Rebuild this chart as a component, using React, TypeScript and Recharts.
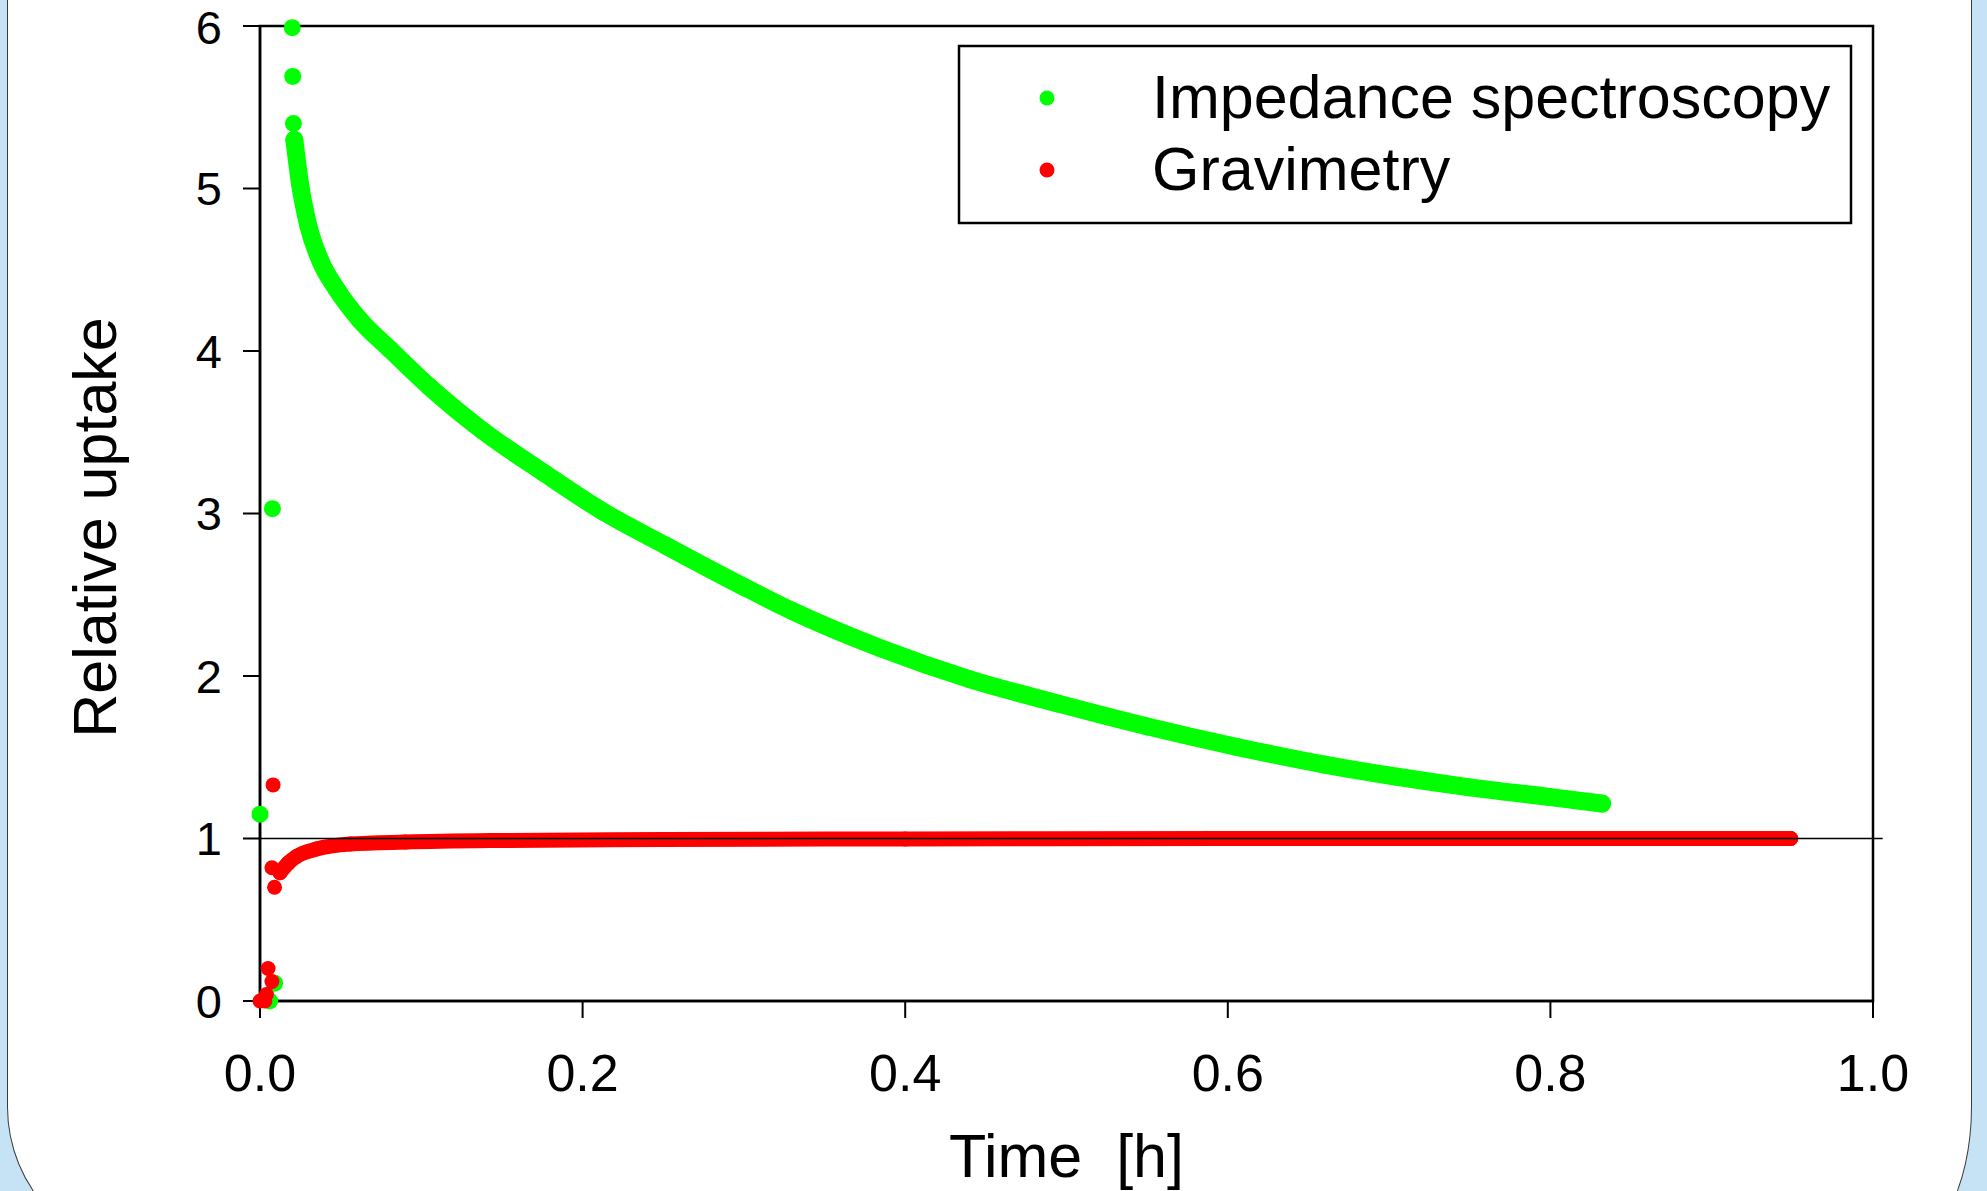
import React from 'react';
import {
  ScatterChart,
  Scatter,
  XAxis,
  YAxis,
  ReferenceLine,
  ReferenceArea,
} from 'recharts';

const FONT = '"Liberation Sans", Arial, Helvetica, sans-serif';

// Impedance spectroscopy: scattered first readings
const impedanceSpotTime = [0.0, 0.006, 0.009, 0.0077, 0.0200, 0.0203, 0.0207];
const impedanceSpotValue = [1.15, 0.0, 0.11, 3.03, 5.99, 5.69, 5.40];

// Impedance spectroscopy: dense decay band
const impedanceTime = [
  0.0213, 0.0248, 0.030, 0.0372, 0.0475, 0.062, 0.0806, 0.105, 0.138, 0.176,
  0.213, 0.252, 0.2997, 0.33, 0.385, 0.44, 0.495, 0.55, 0.605, 0.66, 0.705,
  0.75, 0.80, 0.832,
];
const impedanceValue = [
  5.30, 5.03, 4.77, 4.56, 4.38, 4.19, 4.01, 3.78, 3.51, 3.25,
  3.01, 2.80, 2.55, 2.40, 2.17, 1.98, 1.83, 1.69, 1.565, 1.455, 1.38,
  1.315, 1.255, 1.215,
];

// Gravimetry: scattered first readings
const gravimetrySpotTime = [0.0, 0.003, 0.004, 0.005, 0.0074, 0.0081, 0.0074, 0.009];
const gravimetrySpotValue = [0.0, 0.0, 0.04, 0.20, 0.12, 1.33, 0.82, 0.70];

// Gravimetry: dense saturation band
const gravimetryTime = [
  0.0124, 0.0176, 0.0227, 0.035, 0.056, 0.09, 0.15, 0.25, 0.4, 0.6, 0.8, 0.949,
];
const gravimetryValue = [
  0.79, 0.85, 0.89, 0.935, 0.966, 0.978, 0.988, 0.994, 0.997, 1.0, 1.0, 1.0,
];

const xTicks = [0, 0.2, 0.4, 0.6, 0.8, 1.0];
const yTicks = [0, 1, 2, 3, 4, 5, 6];

const seriesNames = ['Impedance spectroscopy', 'Gravimetry'];
const seriesColors = ['#00ff00', '#ff0000'];

const toPoints = (ts: number[], vs: number[]) => ts.map((t, i) => ({ t, v: vs[i] }));

const dot = (r: number, color: string) => (p: any) =>
  <circle cx={p.cx} cy={p.cy} r={r} fill={color} />;

export default function App() {
  const impSpots = toPoints(impedanceSpotTime, impedanceSpotValue);
  const impBand = toPoints(impedanceTime, impedanceValue);
  const gravSpots = toPoints(gravimetrySpotTime, gravimetrySpotValue);
  const gravBand = toPoints(gravimetryTime, gravimetryValue);

  return (
    <div
      style={{
        position: 'absolute',
        left: 0,
        top: 0,
        width: 1987,
        height: 1191,
        overflow: 'hidden',
        background: '#c6e3f5',
        fontFamily: FONT,
      }}
    >
      <div
        style={{
          position: 'absolute',
          left: 7,
          top: -20,
          width: 1965,
          height: 1277,
          boxSizing: 'border-box',
          background: '#fff',
          border: '1.5px solid #3a3a3a',
          borderBottomLeftRadius: '150px',
          borderBottomRightRadius: '82px 150px',
        }}
      />
      <div style={{ position: 'absolute', left: 0, top: 0 }}>
        <ScatterChart
          width={1987}
          height={1191}
          margin={{ top: 26, right: 114, bottom: 0, left: 60 }}
        >
          <XAxis
            type="number"
            dataKey="t"
            domain={[0, 1]}
            ticks={xTicks}
            tickFormatter={(v: number) => v.toFixed(1)}
            height={190}
            tickSize={17}
            tickMargin={36}
            axisLine={{ stroke: '#000', strokeWidth: 2.5 }}
            tickLine={{ stroke: '#000', strokeWidth: 2 }}
            tick={{ fill: '#000', fontSize: 52, fontFamily: FONT }}
            label={(props: any) => {
              const vb = props.viewBox;
              return (
                <text
                  x={vb.x + vb.width / 2}
                  y={vb.y + vb.height - 14}
                  textAnchor="middle"
                  fill="#000"
                  style={{ fontSize: 61, fontFamily: FONT }}
                >
                  {'Time\u00a0\u00a0[h]'}
                </text>
              );
            }}
          />
          <YAxis
            type="number"
            dataKey="v"
            domain={[0, 6]}
            ticks={yTicks}
            width={200}
            tickSize={17}
            tickMargin={21}
            axisLine={{ stroke: '#000', strokeWidth: 2.5 }}
            tickLine={{ stroke: '#000', strokeWidth: 2 }}
            tick={{ fill: '#000', fontSize: 47, fontFamily: FONT }}
            label={(props: any) => {
              const vb = props.viewBox;
              const cx = vb.x + 34;
              const cy = vb.y + vb.height / 2 + 14;
              return (
                <text
                  x={cx}
                  y={cy}
                  dy={22}
                  textAnchor="middle"
                  fill="#000"
                  transform={`rotate(-90, ${cx}, ${cy})`}
                  style={{ fontSize: 61, fontFamily: FONT }}
                >
                  Relative uptake
                </text>
              );
            }}
          />
          <ReferenceArea
            x1={0}
            x2={1}
            y1={0}
            y2={6}
            fill="none"
            fillOpacity={0}
            stroke="#000"
            strokeWidth={2.5}
          />
          <Scatter
            name={seriesNames[0]}
            data={impBand}
            fill={seriesColors[0]}
            isAnimationActive={false}
            line={{
              stroke: seriesColors[0],
              strokeWidth: 18,
              strokeLinecap: 'round',
              strokeLinejoin: 'round',
            }}
            lineType="joint"
            lineJointType="monotoneX"
            shape={dot(9, seriesColors[0])}
          />
          <Scatter
            name={seriesNames[0]}
            data={impSpots}
            fill={seriesColors[0]}
            isAnimationActive={false}
            shape={dot(8.5, seriesColors[0])}
          />
          <Scatter
            name={seriesNames[1]}
            data={gravBand}
            fill={seriesColors[1]}
            isAnimationActive={false}
            line={{
              stroke: seriesColors[1],
              strokeWidth: 15,
              strokeLinecap: 'round',
              strokeLinejoin: 'round',
            }}
            lineType="joint"
            lineJointType="monotoneX"
            shape={dot(7.5, seriesColors[1])}
          />
          <Scatter
            name={seriesNames[1]}
            data={gravSpots}
            fill={seriesColors[1]}
            isAnimationActive={false}
            shape={dot(7.5, seriesColors[1])}
          />
          <ReferenceLine
            segment={[
              { x: 0, y: 1 },
              { x: 1.006, y: 1 },
            ]}
            ifOverflow="visible"
            stroke="#000"
            strokeWidth={1.5}
            zIndex={700}
          />
        </ScatterChart>
      </div>
      <svg
        width={1987}
        height={1191}
        style={{ position: 'absolute', left: 0, top: 0, pointerEvents: 'none' }}
      >
        <rect x={959} y={46} width={892} height={177} fill="#fff" stroke="#000" strokeWidth={2.5} />
        {seriesNames.map((name, i) => (
          <g key={name}>
            <circle cx={1047} cy={98 + i * 72} r={7.5} fill={seriesColors[i]} />
            <text
              x={1152}
              y={118 + i * 72}
              fill="#000"
              style={{ fontSize: 61, fontFamily: FONT }}
            >
              {name}
            </text>
          </g>
        ))}
      </svg>
    </div>
  );
}
